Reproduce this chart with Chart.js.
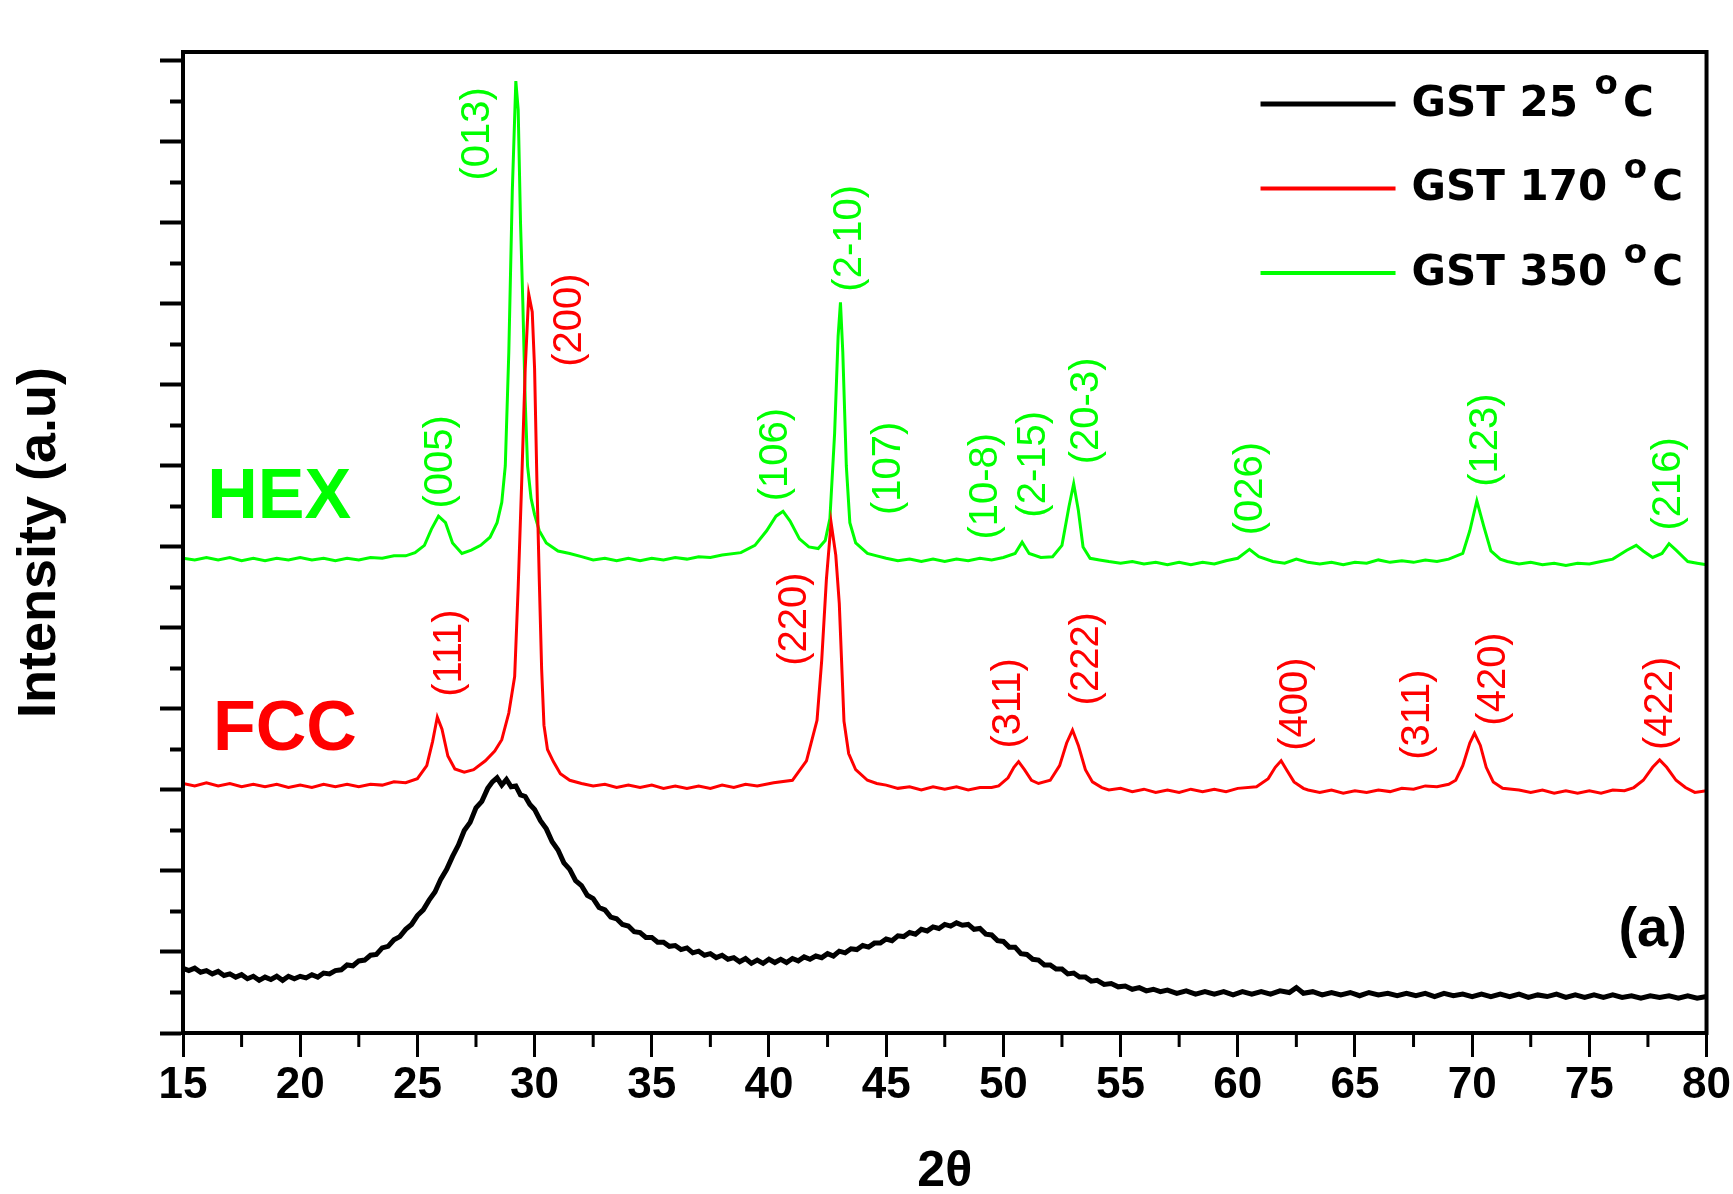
<!DOCTYPE html>
<html>
<head>
<meta charset="utf-8">
<script src="https://cdn.jsdelivr.net/npm/chart.js@4.4.0/dist/chart.umd.min.js"></script>
<style>
  html, body { margin: 0; padding: 0; background: #fff; }
  #wrap { width: 1733px; height: 1194px; }
</style>
</head>
<body>
<div id="wrap"><canvas id="myChart" width="1733" height="1194"></canvas></div>
<script>
// XRD patterns, [2theta, intensity (a.u., stacked)]
const gst25 = [
  [15.0,0.80],[15.25,0.77],[15.5,0.80],[15.75,0.75],[16.0,0.77],[16.25,0.73],[16.5,0.76],[16.75,0.71],[17.0,0.73],[17.25,0.69],
  [17.5,0.72],[17.75,0.67],[18.0,0.70],[18.25,0.65],[18.5,0.69],[18.75,0.66],[19.0,0.70],[19.25,0.65],[19.5,0.70],[19.75,0.67],
  [20.0,0.70],[20.25,0.68],[20.5,0.72],[20.75,0.69],[21.0,0.74],[21.25,0.73],[21.5,0.77],[21.75,0.78],[22.0,0.84],[22.25,0.83],
  [22.5,0.89],[22.75,0.90],[23.0,0.96],[23.25,0.97],[23.5,1.05],[23.75,1.07],[24.0,1.15],[24.25,1.19],[24.5,1.28],[24.75,1.34],
  [25.0,1.45],[25.25,1.52],[25.5,1.64],[25.75,1.74],[26.0,1.90],[26.25,2.02],[26.5,2.18],[26.75,2.32],[27.0,2.50],[27.25,2.60],
  [27.5,2.78],[27.75,2.86],[28.0,3.02],[28.2,3.10],[28.4,3.15],[28.6,3.06],[28.8,3.13],[29.0,3.04],[29.2,3.05],[29.4,2.94],
  [29.6,2.92],[29.8,2.82],[30.0,2.76],[30.25,2.62],[30.5,2.52],[30.75,2.36],[31.0,2.26],[31.25,2.10],[31.5,2.02],[31.75,1.88],
  [32.0,1.82],[32.25,1.70],[32.5,1.66],[32.75,1.55],[33.0,1.52],[33.25,1.43],[33.5,1.41],[33.75,1.34],[34.0,1.32],[34.25,1.25],
  [34.5,1.24],[34.75,1.18],[35.0,1.18],[35.25,1.12],[35.5,1.12],[35.75,1.07],[36.0,1.08],[36.25,1.03],[36.5,1.05],[36.75,0.99],
  [37.0,1.01],[37.25,0.96],[37.5,0.98],[37.75,0.93],[38.0,0.96],[38.25,0.91],[38.5,0.93],[38.75,0.88],[39.0,0.92],[39.25,0.86],
  [39.5,0.90],[39.75,0.86],[40.0,0.91],[40.25,0.87],[40.5,0.91],[40.75,0.87],[41.0,0.92],[41.25,0.89],[41.5,0.94],[41.75,0.91],
  [42.0,0.95],[42.25,0.93],[42.5,0.98],[42.75,0.95],[43.0,1.01],[43.25,0.99],[43.5,1.04],[43.75,1.03],[44.0,1.08],[44.25,1.06],
  [44.5,1.11],[44.75,1.11],[45.0,1.16],[45.25,1.14],[45.5,1.20],[45.75,1.19],[46.0,1.24],[46.25,1.22],[46.5,1.28],[46.75,1.26],
  [47.0,1.31],[47.25,1.29],[47.5,1.34],[47.75,1.32],[48.0,1.36],[48.25,1.33],[48.5,1.34],[48.75,1.28],[49.0,1.29],[49.25,1.22],
  [49.5,1.21],[49.75,1.14],[50.0,1.13],[50.25,1.06],[50.5,1.06],[50.75,0.98],[51.0,0.97],[51.25,0.91],[51.5,0.90],[51.75,0.84],
  [52.0,0.84],[52.25,0.79],[52.5,0.79],[52.75,0.73],[53.0,0.74],[53.25,0.69],[53.5,0.69],[53.75,0.64],[54.0,0.65],[54.3,0.60],
  [54.6,0.61],[54.9,0.57],[55.2,0.58],[55.5,0.54],[55.8,0.56],[56.1,0.52],[56.4,0.54],[56.7,0.51],[57.0,0.53],[57.4,0.49],
  [57.8,0.52],[58.2,0.48],[58.6,0.51],[59.0,0.48],[59.4,0.51],[59.8,0.47],[60.2,0.51],[60.6,0.48],[61.0,0.51],[61.4,0.48],
  [61.8,0.52],[62.2,0.50],[62.5,0.56],[62.8,0.49],[63.2,0.51],[63.6,0.47],[64.0,0.50],[64.4,0.47],[64.8,0.50],[65.2,0.46],
  [65.6,0.50],[66.0,0.47],[66.4,0.49],[66.8,0.46],[67.2,0.49],[67.6,0.46],[68.0,0.49],[68.4,0.45],[68.8,0.49],[69.2,0.46],
  [69.6,0.48],[70.0,0.45],[70.4,0.48],[70.8,0.45],[71.2,0.48],[71.6,0.45],[72.0,0.48],[72.4,0.44],[72.8,0.47],[73.2,0.45],
  [73.6,0.48],[74.0,0.44],[74.4,0.47],[74.8,0.44],[75.2,0.47],[75.6,0.44],[76.0,0.47],[76.4,0.44],[76.8,0.46],[77.2,0.43],
  [77.6,0.46],[78.0,0.44],[78.4,0.46],[78.8,0.43],[79.2,0.46],[79.6,0.43],[80.0,0.45]
];

const gst170 = [
  [15.0,3.08],[15.5,3.05],[16.0,3.09],[16.5,3.05],[17.0,3.08],[17.5,3.04],[18.0,3.07],[18.5,3.04],[19.0,3.07],[19.5,3.03],
  [20.0,3.06],[20.5,3.03],[21.0,3.07],[21.5,3.04],[22.0,3.07],[22.5,3.04],[23.0,3.07],[23.5,3.06],[24.0,3.10],[24.5,3.09],
  [25.0,3.14],[25.4,3.30],[25.65,3.60],[25.85,3.90],[26.05,3.75],[26.3,3.42],[26.6,3.26],[27.0,3.22],[27.4,3.25],[27.9,3.36],
  [28.3,3.48],[28.6,3.62],[28.9,3.95],[29.15,4.40],[29.3,5.50],[29.45,6.80],[29.6,8.20],[29.75,9.12],[29.9,8.90],[30.0,8.20],
  [30.1,6.80],[30.2,5.60],[30.3,4.50],[30.4,3.80],[30.55,3.50],[30.8,3.35],[31.1,3.20],[31.5,3.12],[32.0,3.08],[32.5,3.05],
  [33.0,3.07],[33.5,3.03],[34.0,3.06],[34.5,3.03],[35.0,3.06],[35.5,3.02],[36.0,3.05],[36.5,3.02],[37.0,3.05],[37.5,3.02],
  [38.0,3.06],[38.5,3.03],[39.0,3.07],[39.5,3.05],[40.2,3.09],[41.0,3.12],[41.6,3.36],[42.05,3.86],[42.25,4.60],[42.45,5.60],
  [42.65,6.30],[42.85,5.90],[43.0,5.30],[43.2,3.85],[43.4,3.45],[43.7,3.25],[44.2,3.12],[44.6,3.08],[45.0,3.06],[45.5,3.02],
  [46.0,3.04],[46.5,3.00],[47.0,3.04],[47.5,3.01],[48.0,3.04],[48.5,3.00],[49.0,3.03],[49.5,3.03],[49.8,3.05],[50.2,3.15],
  [50.45,3.28],[50.65,3.35],[50.9,3.25],[51.2,3.12],[51.5,3.08],[52.0,3.12],[52.4,3.30],[52.7,3.58],[52.95,3.74],[53.2,3.55],
  [53.5,3.25],[53.8,3.10],[54.2,3.03],[54.5,3.00],[55.0,3.02],[55.5,2.98],[56.0,3.01],[56.5,2.97],[57.0,3.00],[57.5,2.97],
  [58.0,3.01],[58.5,2.98],[59.0,3.01],[59.5,2.98],[60.0,3.02],[60.8,3.04],[61.3,3.14],[61.6,3.28],[61.85,3.36],[62.1,3.24],
  [62.4,3.10],[62.8,3.02],[63.0,3.00],[63.5,2.97],[64.0,3.00],[64.5,2.96],[65.0,2.99],[65.5,2.97],[66.0,3.00],[66.5,2.98],
  [67.0,3.02],[67.5,3.01],[68.0,3.05],[68.5,3.04],[69.0,3.07],[69.3,3.12],[69.6,3.30],[69.9,3.58],[70.1,3.70],[70.35,3.55],
  [70.6,3.28],[70.9,3.10],[71.3,3.02],[72.0,3.00],[72.5,2.97],[73.0,3.00],[73.5,2.96],[74.0,2.99],[74.5,2.96],[75.0,2.99],
  [75.5,2.96],[76.0,3.00],[76.5,2.99],[76.9,3.03],[77.3,3.12],[77.7,3.28],[78.0,3.37],[78.3,3.28],[78.7,3.12],[79.1,3.03],
  [79.5,2.97],[80.0,2.99]
];

const gst350 = [
  [15.0,5.86],[15.5,5.84],[16.0,5.87],[16.5,5.84],[17.0,5.87],[17.5,5.83],[18.0,5.86],[18.5,5.83],[19.0,5.86],[19.5,5.84],
  [20.0,5.87],[20.5,5.84],[21.0,5.86],[21.5,5.83],[22.0,5.86],[22.5,5.84],[23.0,5.87],[23.5,5.86],[24.0,5.89],[24.5,5.89],
  [24.9,5.93],[25.3,6.02],[25.6,6.22],[25.9,6.38],[26.2,6.30],[26.5,6.05],[26.9,5.92],[27.3,5.96],[27.7,6.02],[28.1,6.12],
  [28.4,6.30],[28.6,6.55],[28.75,7.00],[28.9,8.40],[29.05,10.40],[29.2,11.75],[29.3,11.40],[29.4,10.00],[29.5,9.00],[29.6,7.80],
  [29.7,7.00],[29.85,6.60],[30.0,6.40],[30.2,6.20],[30.5,6.05],[31.0,5.95],[31.5,5.92],[32.0,5.88],[32.5,5.84],[33.0,5.86],
  [33.5,5.83],[34.0,5.86],[34.5,5.83],[35.0,5.86],[35.5,5.84],[36.0,5.87],[36.5,5.85],[37.0,5.88],[37.5,5.87],[38.0,5.90],
  [38.8,5.93],[39.4,6.02],[39.9,6.20],[40.3,6.38],[40.6,6.44],[40.9,6.32],[41.3,6.10],[41.7,6.00],[42.1,5.98],[42.4,6.08],
  [42.6,6.35],[42.8,7.40],[42.95,8.60],[43.05,9.02],[43.15,8.40],[43.3,7.00],[43.45,6.30],[43.7,6.05],[44.2,5.92],[44.6,5.89],
  [45.0,5.86],[45.5,5.83],[46.0,5.85],[46.5,5.82],[47.0,5.85],[47.5,5.82],[48.0,5.85],[48.5,5.83],[49.0,5.86],[49.5,5.84],
  [50.0,5.87],[50.5,5.92],[50.8,6.06],[51.1,5.92],[51.6,5.87],[52.1,5.88],[52.5,6.02],[52.8,6.50],[53.0,6.78],[53.2,6.45],
  [53.4,6.00],[53.7,5.86],[54.1,5.84],[54.5,5.82],[55.0,5.80],[55.5,5.82],[56.0,5.79],[56.5,5.81],[57.0,5.78],[57.5,5.81],
  [58.0,5.78],[58.5,5.81],[59.0,5.79],[59.5,5.83],[60.0,5.86],[60.5,5.97],[60.9,5.88],[61.5,5.82],[62.0,5.80],[62.5,5.85],
  [63.0,5.81],[63.5,5.79],[64.0,5.81],[64.5,5.78],[65.0,5.81],[65.5,5.80],[66.0,5.84],[66.5,5.81],[67.0,5.83],[67.5,5.81],
  [68.0,5.84],[68.5,5.82],[69.0,5.85],[69.6,5.92],[69.9,6.20],[70.2,6.57],[70.5,6.25],[70.8,5.95],[71.2,5.85],[71.5,5.82],
  [72.0,5.79],[72.5,5.81],[73.0,5.78],[73.5,5.80],[74.0,5.77],[74.5,5.80],[75.0,5.79],[75.5,5.82],[76.0,5.85],[76.6,5.96],
  [77.0,6.02],[77.3,5.95],[77.7,5.87],[78.1,5.92],[78.4,6.04],[78.7,5.96],[79.2,5.82],[79.6,5.80],[80.0,5.78]
];

const seriesNames = ['GST 25 °C', 'GST 170 °C', 'GST 350 °C'];
const seriesColors = ['#000000', '#ff0000', '#00ff00'];

// Miller index annotations, anchored in data coordinates
const hexPeaks = ['(013)', '(005)', '(106)', '(2-10)', '(107)', '(10-8)', '(2-15)', '(20-3)', '(026)', '(123)', '(216)'];
const hexPeakX = [27.6, 26.0, 40.3, 43.45, 45.1, 49.25, 51.3, 53.55, 60.55, 70.6, 78.4];
const hexPeakY = [11.1, 7.05, 7.14, 9.81, 6.97, 6.75, 7.02, 7.68, 6.72, 7.32, 6.78];
const fccPeaks = ['(200)', '(111)', '(220)', '(311)', '(222)', '(400)', '(311)', '(420)', '(422)'];
const fccPeakX = [31.5, 26.4, 41.1, 50.25, 53.55, 62.5, 67.7, 70.95, 78.05];
const fccPeakY = [8.8, 4.69, 5.11, 4.07, 4.62, 4.06, 3.93, 4.37, 4.07];

const xTicks = [15, 80, 5];
const yTicks = [0, 12.11, 1];

const toPoints = arr => arr.map(([x, y]) => ({x, y}));

const frameAndMinorTicks = {
  id: 'frameAndMinorTicks',
  afterDraw(chart) {
    const {ctx, chartArea: {left, right, top, bottom}, scales: {x, y}} = chart;
    ctx.save();
    ctx.strokeStyle = '#000';
    ctx.lineWidth = 3;
    ctx.beginPath();
    for (let v = xTicks[0] + xTicks[2] / 2; v < xTicks[1]; v += xTicks[2]) {
      const px = x.getPixelForValue(v);
      ctx.moveTo(px, bottom);
      ctx.lineTo(px, bottom + 14);
    }
    ctx.stroke();
    ctx.lineWidth = 4;
    ctx.beginPath();
    for (let v = 0.5; v < 12; v += 1) {
      const py = y.getPixelForValue(v);
      ctx.moveTo(left - 13, py);
      ctx.lineTo(left, py);
    }
    ctx.stroke();
    ctx.strokeRect(left, top, right - left, bottom - top);
    ctx.restore();
  }
};

const peakLabels = {
  id: 'peakLabels',
  afterDatasetsDraw(chart) {
    const {ctx, scales: {x, y}} = chart;
    const vtext = (txt, xv, yv, color) => {
      ctx.save();
      ctx.translate(x.getPixelForValue(xv), y.getPixelForValue(yv));
      ctx.rotate(-Math.PI / 2);
      ctx.font = '40px "Liberation Sans", Arial, sans-serif';
      ctx.fillStyle = color;
      ctx.textAlign = 'center';
      ctx.textBaseline = 'middle';
      ctx.fillText(txt, 0, 0);
      ctx.restore();
    };
    hexPeaks.forEach((t, i) => vtext(t, hexPeakX[i], hexPeakY[i], seriesColors[2]));
    fccPeaks.forEach((t, i) => vtext(t, fccPeakX[i], fccPeakY[i], seriesColors[1]));

    ctx.save();
    ctx.font = 'bold 70px "Liberation Sans", Arial, sans-serif';
    ctx.textAlign = 'center';
    ctx.textBaseline = 'middle';
    ctx.fillStyle = seriesColors[2];
    ctx.fillText('HEX', x.getPixelForValue(19.1), y.getPixelForValue(6.6));
    ctx.fillStyle = seriesColors[1];
    ctx.fillText('FCC', x.getPixelForValue(19.35), y.getPixelForValue(3.73));
    ctx.fillStyle = '#000';
    ctx.font = 'bold 56px "Liberation Sans", Arial, sans-serif';
    ctx.fillText('(a)', x.getPixelForValue(77.7), y.getPixelForValue(1.27));
    ctx.restore();
  }
};

const cornerLegend = {
  id: 'cornerLegend',
  afterDraw(chart) {
    const {ctx, chartArea: {top, right}} = chart;
    chart.data.datasets.forEach((ds, i) => {
      const yy = top + 52 + i * 84.5;
      ctx.save();
      ctx.strokeStyle = ds.borderColor;
      ctx.lineWidth = i === 0 ? 5 : 4;
      ctx.beginPath();
      ctx.moveTo(right - 446, yy);
      ctx.lineTo(right - 311, yy);
      ctx.stroke();
      const [head, tail] = ds.label.split('°');
      ctx.fillStyle = '#000';
      ctx.textBaseline = 'middle';
      ctx.font = 'bold 42px "DejaVu Sans", sans-serif';
      let tx = right - 295;
      ctx.fillText(head, tx, yy + 1);
      tx += ctx.measureText(head).width + 2;
      ctx.font = 'bold 34px "DejaVu Sans", sans-serif';
      ctx.fillText('o', tx, yy - 19);
      tx += ctx.measureText('o').width + 5;
      ctx.font = 'bold 42px "DejaVu Sans", sans-serif';
      ctx.fillText(tail, tx, yy + 1);
      ctx.restore();
    });
  }
};

const myChartRef = document.getElementById('myChart').getContext('2d');

const myChart = new Chart(myChartRef, {
  type: 'line',
  data: {
    datasets: [gst25, gst170, gst350].map((d, i) => ({
      label: seriesNames[i],
      data: toPoints(d),
      borderColor: seriesColors[i],
      borderWidth: i === 0 ? 5 : 3,
      pointRadius: 0,
      tension: 0,
      fill: false,
    })),
  },
  options: {
    responsive: false,
    animation: false,
    layout: {padding: {top: 52, right: 24, left: 0, bottom: 0}},
    plugins: {
      legend: {display: false},
      tooltip: {enabled: false},
    },
    scales: {
      x: {
        type: 'linear',
        min: xTicks[0],
        max: xTicks[1],
        afterFit: scale => { scale.height = 161; },
        ticks: {
          stepSize: xTicks[2],
          includeBounds: false,
          autoSkip: false,
          maxRotation: 0,
          padding: 2,
          color: '#000',
          font: {family: '"Liberation Sans", Arial, sans-serif', size: 44, weight: 'bold'},
        },
        grid: {drawOnChartArea: false, drawTicks: true, tickLength: 24, tickWidth: 3, tickColor: '#000'},
        border: {display: true, color: '#000', width: 4},
        title: {
          display: true,
          text: '2θ',
          color: '#000',
          padding: 0,
          font: {family: '"Liberation Sans", Arial, sans-serif', size: 50, weight: 'bold', lineHeight: 0.88},
        },
      },
      y: {
        type: 'linear',
        min: yTicks[0],
        max: yTicks[1],
        afterFit: scale => { scale.width = 183; },
        ticks: {stepSize: yTicks[2], includeBounds: false, display: false},
        grid: {drawOnChartArea: false, drawTicks: true, tickLength: 23, tickWidth: 4, tickColor: '#000'},
        border: {display: true, color: '#000', width: 4},
        title: {
          display: true,
          text: 'Intensity (a.u)',
          color: '#000',
          padding: {top: 8, bottom: 0},
          font: {family: '"Liberation Sans", Arial, sans-serif', size: 54, weight: 'bold'},
        },
      },
    },
  },
  plugins: [peakLabels, frameAndMinorTicks, cornerLegend],
});
</script>
</body>
</html>
